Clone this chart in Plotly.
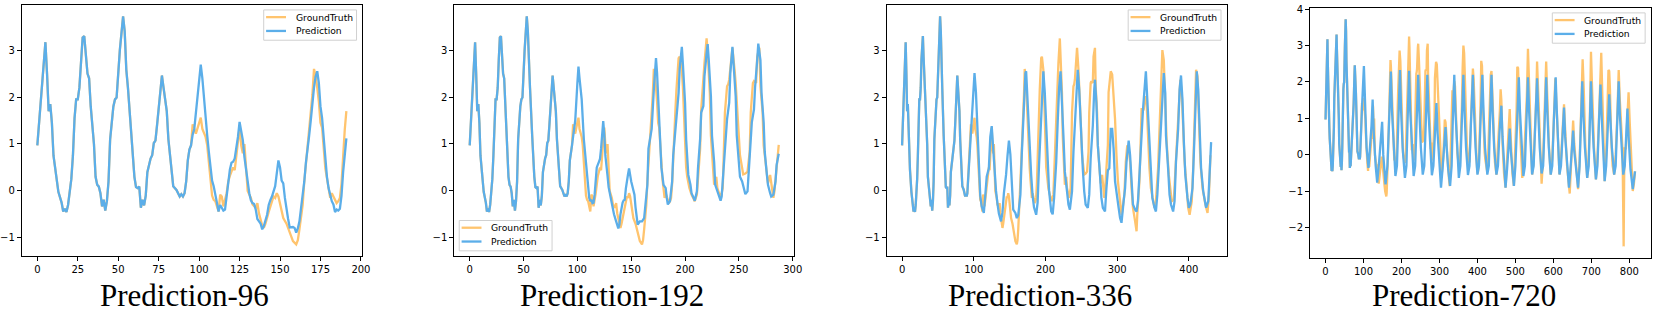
import plotly.graph_objects as go

# ---------------- data ----------------
# shared input history, t = 0..95
hist = [(0, 0.97), (5, 3.17), (6, 2.5), (7, 1.7), (8, 1.85), (9, 1.45), (10, 0.75), (11, 0.45),
        (13, -0.02), (15, -0.25), (16, -0.44), (17, -0.38), (18, -0.45), (19, -0.3), (20, -0.05),
        (21, 0.25), (22, 0.75), (23, 1.55), (24, 1.95), (25, 1.95), (26, 2.2), (27, 2.8), (28, 3.27),
        (29, 3.3), (30, 2.85), (31, 2.5), (32, 2.4), (33, 1.8), (35, 1.0), (36, 0.3), (37, 0.13),
        (38, 0.09), (39, -0.05), (40, -0.33), (41, -0.19), (42, -0.42), (43, -0.22), (44, 0.2),
        (45, 1.1), (46, 1.5), (47, 1.8), (48, 1.95), (49, 1.99), (51, 3.0), (53, 3.72), (54, 3.4),
        (55, 2.58), (56, 2.2), (58, 1.18), (59, 0.7), (60, 0.3), (61, 0.08), (62, 0.06), (63, 0.09),
        (64, -0.36), (65, -0.19), (66, -0.31), (67, -0.1), (68, 0.4), (70, 0.69), (71, 0.76),
        (72, 1.02), (73, 1.07), (74, 1.4), (76, 2.15), (77, 2.46), (78, 2.2), (80, 1.7), (81, 1.1),
        (83, 0.34), (84, 0.1), (86, 0.02), (87, -0.05), (88, -0.12), (89, -0.07), (90, -0.12),
        (91, -0.05), (92, 0.2), (93, 0.65), (94, 0.88), (95, 0.97)]

# ground truth future, t = 96..815
gt_future = [(96, 1.42), (98, 1.22), (100, 1.46), (101, 1.56), (102, 1.32), (104, 1.15), (105, 0.97),
             (106, 0.6), (107, 0.3), (108, -0.1), (109, -0.19), (110, -0.22), (112, -0.44), (113, -0.08),
             (114, -0.12), (115, -0.33), (117, -0.05), (118, 0.2), (119, 0.32), (121, 0.5), (122, 0.44),
             (123, 0.76), (124, 1.15), (125, 1.35), (126, 0.97), (127, 0.8), (128, 1.0), (129, 0.4),
             (130, 0.0), (132, -0.15), (133, -0.29), (135, -0.36), (136, -0.26), (137, -0.48),
             (139, -0.74), (140, -0.79), (141, -0.7), (143, -0.45), (145, -0.2), (146, -0.12),
             (147, -0.15), (148, -0.05), (149, -0.12), (151, -0.46), (152, -0.58), (154, -0.7),
             (155, -0.8), (157, -1.0), (158, -1.07), (160, -1.14), (161, -1.05), (162, -0.82),
             (164, -0.3), (165, 0.2), (167, 0.9), (168, 1.2), (170, 2.05), (171, 2.6), (172, 2.45),
             (173, 2.2), (174, 1.9), (175, 1.45), (176, 1.35), (178, 0.48), (179, 0.25), (181, -0.15),
             (182, -0.05), (183, -0.12), (185, -0.26), (186, -0.22), (187, -0.15), (188, 0.15),
             (189, 0.8), (190, 1.3), (191, 1.7), (192, 2.16), (194, 2.83), (195, 2.86), (197, 2.58),
             (198, 2.2), (200, 1.04), (201, 0.5), (202, 0.3), (204, 0.06), (206, -0.08), (209, -0.22),
             (211, -0.08), (212, 0.34), (214, 0.9), (215, 1.74), (217, 2.5), (218, 2.72), (220, 3.25),
             (221, 2.95), (223, 2.09), (224, 1.18), (226, 0.48), (227, 0.13), (229, 0.3), (230, 0.06),
             (233, -0.15), (235, 0.06), (236, 0.83), (237, 1.67), (239, 2.23), (240, 2.27), (241, 2.37),
             (243, 2.93), (244, 3.05), (246, 2.58), (247, 2.3), (249, 1.53), (251, 0.76), (254, 0.35),
             (256, 0.37), (258, 0.41), (260, 0.83), (261, 1.67), (263, 2.3), (264, 2.34), (266, 2.3),
             (267, 2.86), (269, 3.05), (270, 2.23), (272, 1.67), (273, 0.97), (276, 0.34), (277, 0.16),
             (279, 0.34), (280, 0.13), (282, -0.15), (283, -0.01), (285, 0.55), (287, 0.98), (288, 2.1),
             (289, 2.25), (291, 2.55), (293, 2.48), (294, 2.23), (297, 1.53), (299, 0.76), (301, 0.2),
             (304, -0.22), (306, -0.51), (307, -0.44), (310, -0.08), (312, 0.62), (314, 0.97),
             (316, 0.9), (318, 0.62), (320, 0.06), (322, -0.36), (325, -0.65), (327, -0.86),
             (328, -0.51), (331, 0.2), (333, 1.18), (334, 1.74), (337, 1.74), (339, 2.02), (341, 1.88),
             (343, 1.11), (345, 0.48), (347, 0.06), (350, -0.22), (352, -0.36), (354, -0.22),
             (357, 0.48), (359, 1.32), (361, 2.37), (363, 3.0), (365, 2.79), (367, 2.02), (369, 1.04),
             (372, 0.34), (374, -0.01), (376, -0.22), (379, -0.19), (381, 0.41), (383, 1.04),
             (386, 1.67), (388, 2.37), (390, 2.09), (392, 1.32), (394, 0.62), (397, 0.06), (399, -0.36),
             (401, -0.51), (404, -0.22), (406, 0.48), (408, 1.32), (410, 2.58), (412, 2.44), (414, 1.46),
             (416, 0.62), (419, 0.06), (421, -0.15), (423, -0.29), (426, -0.47), (428, -0.08),
             (430, 0.76), (432, 1.6), (435, 2.2), (437, 2.3), (439, 1.6), (442, 0.6), (446, -0.2),
             (450, -0.54), (453, 0.0), (456, 0.8), (459, 1.2), (461, 1.8), (463, 1.5), (466, 0.3),
             (470, -0.5), (474, -0.9), (478, -0.2), (481, 0.4), (485, 1.26), (488, 0.4), (492, -0.5),
             (496, -0.85), (500, 0.2), (503, 1.2), (505, 2.42), (507, 2.38), (510, 1.2), (514, 0.0),
             (518, -0.63), (522, -0.3), (526, 0.7), (530, 1.6), (533, 2.91), (536, 1.8), (540, 0.3),
             (544, -0.54), (548, -0.2), (552, 0.8), (555, 1.6), (557, 2.56), (560, 1.8), (564, 0.3),
             (569, -0.79), (573, -0.1), (577, 1.0), (581, 2.56), (584, 1.6), (588, 0.3), (593, -0.54),
             (597, -0.1), (601, 0.9), (605, 2.1), (608, 1.4), (612, 0.2), (616, -0.54), (620, -0.1),
             (624, 0.6), (628, 1.39), (631, 0.7), (636, -0.3), (643, -1.06), (647, -0.3), (652, 0.94),
             (655, 0.3), (660, -0.4), (665, -0.94), (669, -0.2), (673, 1.0), (677, 2.62), (680, 1.8),
             (684, 0.3), (689, -0.63), (693, -0.1), (696, 1.0), (699, 2.83), (702, 1.8), (707, 0.2),
             (712, -0.67), (716, -0.1), (720, 1.0), (726, 2.8), (729, 1.6), (733, 0.1), (735, -0.72),
             (739, 0.0), (742, 1.0), (745, 2.33), (747, 2.3), (749, 1.8), (752, 0.5), (756, -0.3),
             (760, -0.54), (764, 0.0), (768, 1.0), (772, 2.33), (775, 1.5), (779, 0.5), (782, 0.15),
             (785, -2.51), (787, 0.18), (791, 0.18), (795, 1.2), (798, 1.72), (801, 0.9), (805, -0.3),
             (809, -0.99), (812, -0.8), (815, -0.45)]

pred_96 = [(96, 1.2), (97, 1.32), (98, 1.67), (99, 2.0), (100, 2.5), (101, 2.69), (102, 2.4), (103, 1.95),
           (104, 1.65), (105, 1.18), (106, 0.83), (107, 0.5), (108, 0.22), (109, 0.1), (110, -0.05),
           (111, -0.25), (112, -0.44), (113, -0.3), (114, -0.36), (115, -0.42), (116, -0.4), (117, -0.1),
           (118, 0.2), (119, 0.45), (120, 0.6), (121, 0.62), (122, 0.69), (123, 0.9), (124, 1.15),
           (125, 1.47), (126, 1.3), (127, 1.08), (128, 0.72), (129, 0.45), (130, 0.15), (131, -0.05),
           (132, -0.2), (133, -0.26), (134, -0.28), (135, -0.4), (136, -0.6), (138, -0.7), (139, -0.82),
           (140, -0.75), (142, -0.51), (143, -0.3), (144, -0.2), (145, -0.12), (147, 0.1), (148, 0.34),
           (149, 0.65), (150, 0.5), (151, 0.22), (152, 0.16), (153, -0.15), (155, -0.6), (156, -0.78),
           (158, -0.77), (159, -0.79), (160, -0.89), (161, -0.8), (162, -0.65), (164, -0.15), (165, 0.2),
           (166, 0.6), (167, 0.85), (168, 1.18), (169, 1.5), (170, 1.9), (171, 2.2), (172, 2.44),
           (173, 2.55), (174, 2.3), (175, 1.8), (176, 1.55), (177, 1.1), (178, 0.6), (179, 0.3),
           (180, 0.06), (181, -0.1), (182, -0.22), (183, -0.29), (184, -0.45), (185, -0.4), (186, -0.42),
           (187, -0.38), (188, -0.1), (189, 0.4), (190, 0.85), (191, 1.12)]

pred_192 = [(96, 1.15), (97, 1.3), (98, 1.5), (100, 2.3), (101, 2.65), (102, 2.4), (104, 1.95), (106, 1.1),
            (108, 0.6), (110, 0.13), (111, -0.15), (112, -0.22), (113, -0.19), (114, -0.26), (115, -0.25),
            (116, -0.08), (117, 0.27), (118, 0.5), (120, 0.62), (121, 0.68), (122, 0.9), (123, 1.2),
            (124, 1.49), (125, 1.2), (126, 0.75), (128, 0.32), (129, 0.08), (131, -0.15), (132, -0.3),
            (134, -0.5), (136, -0.65), (138, -0.8), (139, -0.72), (140, -0.5), (142, -0.25), (143, -0.2),
            (144, -0.19), (145, 0.05), (147, 0.35), (148, 0.48), (150, 0.2), (151, 0.08), (153, -0.08),
            (154, -0.35), (156, -0.72), (158, -0.65), (160, -0.65), (162, -0.58), (163, -0.36), (165, 0.13),
            (166, 0.9), (168, 1.2), (169, 1.32), (171, 2.16), (172, 2.6), (173, 2.83), (174, 2.51),
            (175, 1.95), (177, 1.04), (178, 0.5), (180, 0.13), (182, 0.06), (183, -0.15), (184, -0.29),
            (186, -0.22), (188, 0.2), (189, 0.76), (191, 1.32), (192, 1.6), (194, 2.09), (195, 2.6),
            (197, 3.07), (198, 2.7), (200, 1.88), (201, 1.1), (203, 0.34), (205, 0.13), (206, -0.05),
            (208, -0.15), (209, -0.21), (211, -0.01), (212, 0.48), (214, 1.11), (215, 1.67), (217, 1.81),
            (218, 2.44), (220, 2.93), (221, 3.13), (222, 2.79), (224, 2.02), (225, 1.18), (227, 0.62),
            (228, 0.13), (230, -0.01), (231, -0.08), (233, -0.21), (234, -0.12), (236, 0.62), (238, 1.25),
            (239, 1.53), (241, 1.88), (242, 2.5), (244, 3.07), (245, 2.76), (247, 2.02), (248, 1.18),
            (250, 0.62), (251, 0.3), (253, 0.2), (255, -0.01), (256, -0.07), (258, -0.01), (259, 0.34),
            (261, 0.97), (262, 1.46), (264, 1.74), (265, 2.2), (267, 2.79), (268, 3.14), (270, 2.79),
            (271, 2.09), (273, 1.46), (274, 0.83), (276, 0.34), (277, 0.13), (279, -0.05), (280, -0.12),
            (282, -0.08), (284, 0.2), (285, 0.55), (287, 0.79)]

pred_336 = [(96, 1.3), (98, 1.75), (100, 2.37), (101, 2.51), (103, 2.1), (104, 1.7), (106, 1.0), (107, 0.55),
            (109, -0.1), (111, -0.33), (114, -0.47), (116, -0.1), (118, 0.3), (121, 0.48), (123, 1.15),
            (125, 1.38), (126, 1.1), (128, 0.6), (131, 0.0), (133, -0.27), (135, -0.48), (138, -0.65),
            (140, -0.46), (142, -0.05), (145, 0.34), (147, 0.74), (149, 1.07), (151, 0.78), (153, 0.15),
            (155, -0.4), (158, -0.47), (160, -0.58), (162, -0.52), (165, -0.08), (167, 0.8), (169, 1.6),
            (172, 2.51), (173, 2.55), (175, 1.9), (177, 1.1), (180, 0.34), (182, -0.1), (184, -0.35),
            (187, -0.51), (189, -0.25), (191, 0.55), (194, 1.46), (196, 2.23), (197, 2.55), (199, 2.1),
            (201, 1.3), (203, 0.5), (205, 0.0), (208, -0.44), (210, -0.5), (212, -0.15), (215, 0.62),
            (217, 1.46), (219, 2.2), (221, 2.55), (223, 2.0), (225, 1.18), (227, 0.41), (230, -0.08),
            (232, -0.29), (234, -0.4), (237, -0.01), (239, 0.83), (241, 1.46), (244, 2.23), (245, 2.58),
            (247, 2.16), (249, 1.32), (252, 0.48), (254, -0.01), (256, -0.29), (259, -0.36), (261, -0.08),
            (263, 0.69), (266, 1.39), (268, 2.16), (269, 2.37), (271, 1.88), (273, 0.97), (276, 0.34),
            (278, -0.15), (280, -0.36), (283, -0.44), (285, 0.06), (287, 0.44), (289, 0.48), (291, 1.32),
            (293, 1.32), (295, 0.9), (297, 0.2), (300, -0.22), (302, -0.36), (304, -0.58), (306, -0.68),
            (309, -0.22), (311, 0.06), (313, 0.62), (316, 1.07), (318, 0.76), (320, 0.13), (322, -0.29),
            (325, -0.4), (327, -0.44), (329, -0.22), (332, 0.48), (334, 1.18), (336, 1.74), (339, 2.23),
            (340, 2.55), (342, 1.95), (345, 1.04), (347, 0.34), (349, -0.15), (352, -0.36), (354, -0.44),
            (356, -0.08), (359, 0.76), (361, 1.32), (363, 1.88), (365, 2.51), (367, 2.09), (368, 1.18),
            (371, 0.48), (373, -0.08), (375, -0.29), (378, -0.44), (380, -0.22), (382, 0.62), (385, 1.32),
            (387, 2.16), (389, 2.46), (391, 1.95), (393, 1.04), (395, 0.34), (398, -0.15), (400, -0.36),
            (402, -0.29), (405, 0.06), (407, 0.83), (409, 1.6), (411, 2.55), (413, 2.16), (415, 1.18),
            (417, 0.48), (420, -0.01), (422, -0.22), (424, -0.36), (427, -0.22), (429, 0.48), (431, 1.04)]

pred_720 = [(96, 1.3), (101, 2.44), (104, 1.2), (108, 0.2), (113, -0.36), (118, 0.3), (121, 0.8), (124, 1.52),
            (127, 0.6), (132, -0.3), (136, -0.76), (141, -0.2), (145, 0.3), (149, 0.91), (152, 0.0),
            (158, -0.81), (163, -0.3), (167, 0.8), (170, 1.6), (172, 2.29), (175, 1.2), (179, 0.2),
            (184, -0.58), (188, -0.3), (192, 0.9), (196, 2.33), (199, 1.2), (203, 0.2), (209, -0.63),
            (213, -0.3), (216, 0.9), (220, 2.31), (223, 1.2), (227, 0.2), (232, -0.58), (236, -0.3),
            (240, 0.9), (244, 2.2), (247, 1.2), (251, 0.2), (256, -0.54), (260, -0.3), (264, 0.9),
            (268, 2.2), (271, 1.2), (275, 0.2), (280, -0.56), (284, -0.3), (288, 0.6), (292, 1.42),
            (295, 0.6), (299, -0.2), (304, -0.9), (308, -0.4), (312, 0.2), (316, 0.76), (319, 0.2),
            (323, -0.4), (328, -0.85), (332, -0.3), (335, 0.9), (339, 2.2), (342, 1.2), (346, 0.2),
            (351, -0.63), (355, -0.3), (359, 0.9), (363, 2.2), (366, 1.2), (370, 0.2), (375, -0.55),
            (379, -0.3), (383, 0.9), (388, 2.2), (391, 1.2), (395, 0.2), (400, -0.54), (404, -0.3),
            (408, 0.9), (413, 2.2), (416, 1.2), (420, 0.2), (426, -0.54), (430, -0.3), (433, 0.9),
            (437, 2.2), (440, 1.2), (444, 0.2), (450, -0.54), (454, -0.3), (458, 0.6), (463, 1.35),
            (466, 0.5), (470, -0.3), (474, -0.9), (478, -0.4), (482, 0.2), (485, 0.72), (488, 0.1),
            (492, -0.4), (496, -0.85), (500, -0.3), (504, 0.9), (509, 2.13), (512, 1.2), (516, 0.2),
            (521, -0.58), (525, -0.3), (529, 0.9), (533, 2.13), (536, 1.2), (540, 0.2), (544, -0.54),
            (548, -0.3), (552, 0.9), (557, 2.1), (560, 1.2), (564, 0.2), (569, -0.51), (573, -0.3),
            (577, 0.9), (581, 2.13), (584, 1.2), (588, 0.2), (593, -0.54), (597, -0.3), (601, 0.9),
            (606, 2.13), (609, 1.2), (612, 0.2), (616, -0.54), (620, -0.3), (624, 0.6), (628, 1.3),
            (631, 0.5), (636, -0.3), (641, -0.9), (645, -0.4), (649, 0.2), (652, 0.67), (655, 0.1),
            (660, -0.4), (665, -0.9), (669, -0.3), (672, 0.9), (676, 2.02), (679, 1.1), (683, 0.2),
            (689, -0.63), (693, -0.3), (696, 0.9), (699, 2.02), (702, 1.1), (706, 0.2), (712, -0.67),
            (716, -0.3), (720, 0.9), (724, 1.93), (727, 1.1), (731, 0.2), (735, -0.72), (739, -0.3),
            (743, 0.8), (747, 1.66), (750, 1.0), (754, 0.2), (760, -0.54), (764, -0.3), (768, 0.9),
            (772, 2.02), (775, 1.1), (779, 0.2), (784, -0.54), (788, -0.3), (792, 0.6), (795, 1.27),
            (798, 0.5), (803, -0.4), (809, -0.94), (812, -0.7), (815, -0.45)]

horizons = [96, 192, 336, 720]
preds = [pred_96, pred_192, pred_336, pred_720]
titles = ["Prediction-96", "Prediction-192", "Prediction-336", "Prediction-720"]
series_names = ["GroundTruth", "Prediction"]
x_ticks = [[0, 25, 50, 75, 100, 125, 150, 175, 200],
           [0, 50, 100, 150, 200, 250, 300],
           [0, 100, 200, 300, 400],
           [0, 100, 200, 300, 400, 500, 600, 700, 800]]
y_ticks = [[-1, 0, 1, 2, 3], [-1, 0, 1, 2, 3], [-1, 0, 1, 2, 3], [-2, -1, 0, 1, 2, 3, 4]]

# ---------------- layout geometry (pixels of the 1661x314 canvas) ----------------
W, H = 1661, 314
frames = [(21, 363, 1, 255), (456, 798, 1, 255), (891, 1233, 1, 255), (1317, 1659.5, 4, 257)]
title_cx = [185, 615, 1045.5, 1472]
legend_boxes = [(264.3, 6), (461, 219.3), (1134, 6), (1560.7, 9)]   # top-left corner of each legend
LEG_W, LEG_H = 93.4, 30.7

GT_COLOR = "#FFC46E"
PRED_COLOR = "#5BAEE9"
colors = [GT_COLOR, PRED_COLOR]


def px(x):
    return x / W


def py(y):
    return 1 - y / H


fig = go.Figure()
layout = dict(width=W, height=H, margin=dict(l=0, r=0, t=0, b=0), autosize=False,
              paper_bgcolor="white", plot_bgcolor="white", showlegend=False,
              font=dict(family="DejaVu Sans", size=10, color="black"),
              annotations=[], shapes=[])

for i, L in enumerate(horizons):
    n = i + 1
    sfx = "" if n == 1 else str(n)
    gt = hist + [p for p in gt_future if p[0] <= L + 95]
    pr = hist + preds[i]
    for name, series, col in zip(series_names, [gt, pr], colors):
        fig.add_trace(go.Scatter(x=[p[0] for p in series], y=[p[1] for p in series], mode="lines",
                                 name=name, line=dict(color=col, width=2.3),
                                 xaxis=f"x{sfx}", yaxis=f"y{sfx}"))

    all_y = [p[1] for p in gt] + [p[1] for p in pr]
    tmax = L + 95
    xr = [-0.05 * tmax, tmax * 1.05]
    ymin, ymax = min(all_y), max(all_y)
    yr = [ymin - 0.05 * (ymax - ymin), ymax + 0.05 * (ymax - ymin)]
    l, r, t, b = frames[i]
    axis_common = dict(showline=True, mirror=True, linecolor="black", linewidth=1,
                       ticks="outside", ticklen=4, tickwidth=1, tickcolor="black",
                       showgrid=False, zeroline=False, ticklabeloverflow="allow",
                       tickfont=dict(family="DejaVu Sans", size=10, color="black"))
    layout[f"xaxis{sfx}"] = dict(domain=[px(l), px(r)], range=xr, tickmode="array",
                                 tickvals=x_ticks[i], anchor=f"y{sfx}", **axis_common)
    layout[f"yaxis{sfx}"] = dict(domain=[py(b), py(t)], range=yr, tickmode="array",
                                 tickvals=y_ticks[i], anchor=f"x{sfx}", **axis_common)

    # legend box (matplotlib style)
    bx, by = legend_boxes[i]
    layout["shapes"].append(dict(type="rect", xref="paper", yref="paper", layer="above",
                                 x0=px(bx), x1=px(bx + LEG_W), y0=py(by + LEG_H), y1=py(by),
                                 fillcolor="rgba(255,255,255,0.8)",
                                 line=dict(color="#d0d0d0", width=1)))
    for k, (name, col) in enumerate(zip(series_names, colors)):
        ry = by + 7.3 + 14 * k
        layout["shapes"].append(dict(type="line", xref="paper", yref="paper", layer="above",
                                     x0=px(bx + 2.4), x1=px(bx + 22.4), y0=py(ry), y1=py(ry),
                                     line=dict(color=col, width=2.3)))
        layout["annotations"].append(dict(text=name, x=px(bx + 30.2), y=py(ry),
                                          xref="paper", yref="paper", xanchor="left", yanchor="middle",
                                          showarrow=False,
                                          font=dict(family="DejaVu Sans", size=9.2, color="black")))

    # caption under each panel; its box sits on the bottom edge of the page
    layout["annotations"].append(dict(text=titles[i], x=px(title_cx[i]), y=0,
                                      xref="paper", yref="paper", xanchor="center", yanchor="bottom",
                                      showarrow=False, borderpad=0,
                                      font=dict(family="Liberation Serif", size=31, color="black")))

fig.update_layout(**layout)
# remove the browser's default 8px page margin so the figure sits at the window origin
fig.write_html("out.html",
               config={"displayModeBar": False},
               post_script="document.body.style.margin='0px';document.body.style.padding='0px';"
                           "document.documentElement.style.overflow='hidden';")
